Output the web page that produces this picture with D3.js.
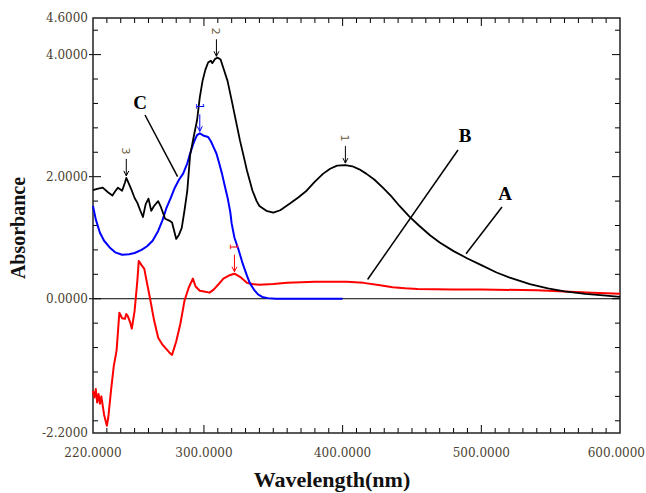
<!DOCTYPE html>
<html>
<head>
<meta charset="utf-8">
<script src="https://cdn.jsdelivr.net/npm/d3@7"></script>
<style>
  body { margin: 0; background: #fff; }
  svg { display: block; }
</style>
</head>
<body>
<div id="chart"></div>
<script>
var width = 646,
    height = 493;

var margin = {top: 18, right: 26, bottom: 60, left: 93};

// spectrum A (black)
var wlA = [220,223,227,231,234,236,238,241,243,244,245,248,250,252,254,256,258,260,262,264,267,269,272,275,277,280,282,284,286,288,290,293,295,297,299,301,303,305,306,308,310,312,314,317,320,322,326,329,331,335,338,340,345,350,355,362,368,374,380,386,391,396,402,407,412,417,423,429,435,441,448,455,463,470,480,490,500,511,520,535,548,560,575,590,600];
var absA = [1.78,1.80,1.82,1.74,1.69,1.76,1.82,1.77,1.90,1.98,1.93,1.77,1.65,1.57,1.45,1.34,1.55,1.64,1.44,1.52,1.60,1.50,1.31,1.28,1.25,0.98,1.05,1.16,1.45,1.77,2.35,2.70,2.92,3.30,3.57,3.75,3.87,3.90,3.86,3.93,3.95,3.92,3.78,3.57,3.25,3.03,2.59,2.30,2.10,1.77,1.60,1.52,1.44,1.41,1.45,1.56,1.66,1.77,1.92,2.05,2.13,2.18,2.19,2.17,2.12,2.05,1.95,1.82,1.68,1.52,1.35,1.20,1.04,0.92,0.78,0.66,0.55,0.43,0.35,0.24,0.17,0.12,0.08,0.05,0.03];

// spectrum B (red)
var wlB = [220,221,222,223,224,225,226,228,230,231,233,235,237,239,241,243,244,245,247,248,250,252,253,255,257,259,261,264,267,270,272,275,277,280,283,286,289,292,294,297,300,304,307,311,314,318,322,326,331,335,340,350,360,380,403,415,427,436,445,454,480,500,540,560,580,600];
var absB = [-1.51,-1.62,-1.48,-1.70,-1.56,-1.72,-1.60,-1.90,-2.08,-1.95,-1.50,-1.10,-0.85,-0.23,-0.32,-0.33,-0.25,-0.28,-0.40,-0.49,-0.20,0.30,0.62,0.55,0.49,0.25,0.02,-0.35,-0.64,-0.75,-0.80,-0.88,-0.92,-0.70,-0.41,-0.03,0.18,0.33,0.20,0.13,0.12,0.10,0.15,0.25,0.33,0.38,0.41,0.36,0.26,0.24,0.23,0.24,0.26,0.28,0.28,0.26,0.22,0.19,0.17,0.16,0.15,0.15,0.14,0.12,0.10,0.08];

// spectrum C (blue)
var wlC = [220,222,225,228,232,236,241,246,250,255,259,263,267,270,273,276,279,282,285,288,290,293,295,297,300,303,305,307,309,311,313,315,317,319,320,322,325,328,331,333,336,339,342,346,352,360,380,400];
var absC = [1.52,1.30,1.08,0.95,0.84,0.76,0.72,0.73,0.75,0.80,0.86,0.95,1.11,1.28,1.49,1.65,1.82,1.95,2.05,2.22,2.38,2.58,2.68,2.71,2.67,2.65,2.58,2.48,2.38,2.22,2.05,1.85,1.66,1.42,1.23,1.00,0.80,0.57,0.38,0.26,0.15,0.07,0.03,0.01,0.0,0.0,0.0,0.0];

// peak markers: wavelength, label, series
var peakWl = [244, 309, 402, 297, 322];
var peakLabel = ["3", "2", "1", "1", "1"];
var peakSeries = ["A", "A", "A", "C", "B"];

var xTickLabels = ["220.0000", "300.0000", "400.0000", "500.0000", "600.0000"];
var xTickValues = [220, 300, 400, 500, 600];
var yTickLabels = ["-2.2000", "0.0000", "2.0000", "4.0000", "4.6000"];
var yTickValues = [-2.2, 0, 2, 4, 4.6];

var colors = {A: "#000000", B: "#ff0000", C: "#0000ff"};
var tickColor = "#4a3f30";

var svg = d3.select("#chart")
  .append("svg")
    .attr("width", width)
    .attr("height", height);

svg.append("rect").attr("width", width).attr("height", height).attr("fill", "#fff");

var x = d3.scaleLinear().domain([220, 600]).range([margin.left, width - margin.right]);
var y = d3.scaleLinear().domain([-2.2, 4.6]).range([height - margin.bottom, margin.top]);

var x0 = x(220), x1 = x(600), y0 = y(-2.2), y1 = y(4.6);

// minor ticks
var minorX = d3.range(230, 600, 10);
var minorY = d3.range(-2.0, 4.5, 0.4).map(function(d){ return Math.round(d * 10) / 10 });

var ticks = svg.append("g").attr("stroke", "#000").attr("stroke-width", 1);

ticks.selectAll("bottomTick")
  .data(minorX)
  .enter()
  .append("line")
    .attr("x1", function(d){ return x(d) })
    .attr("x2", function(d){ return x(d) })
    .attr("y1", y0)
    .attr("y2", function(d){ return d % 100 == 0 ? y0 - 8 : y0 - 5 })

ticks.selectAll("topTick")
  .data(minorX)
  .enter()
  .append("line")
    .attr("x1", function(d){ return x(d) })
    .attr("x2", function(d){ return x(d) })
    .attr("y1", y1)
    .attr("y2", function(d){ return d % 100 == 0 ? y1 + 8 : y1 + 5 })

ticks.selectAll("leftTick")
  .data(minorY)
  .enter()
  .append("line")
    .attr("x1", function(d){ return (d == 0 || d == 2 || d == 4) ? x0 - 4 : x0 })
    .attr("x2", function(d){ return (d == 0 || d == 2 || d == 4) ? x0 + 8 : x0 + 5 })
    .attr("y1", function(d){ return y(d) })
    .attr("y2", function(d){ return y(d) })

ticks.selectAll("rightTick")
  .data(minorY)
  .enter()
  .append("line")
    .attr("x1", x1)
    .attr("x2", function(d){ return (d == 0 || d == 2 || d == 4) ? x1 - 8 : x1 - 5 })
    .attr("y1", function(d){ return y(d) })
    .attr("y2", function(d){ return y(d) })

// tick labels
svg.selectAll("xlabels")
  .data(xTickValues)
  .enter()
  .append("text")
    .attr("x", function(d, i){ return i == xTickValues.length - 1 ? width - 1 : x(d) })
    .attr("y", y0 + 24)
    .attr("text-anchor", function(d, i){ return i == xTickValues.length - 1 ? "end" : "middle" })
    .style("font-family", "DejaVu Serif")
    .style("font-size", "12px")
    .style("fill", tickColor)
    .text(function(d, i){ return xTickLabels[i] })

svg.selectAll("ylabels")
  .data(yTickValues)
  .enter()
  .append("text")
    .attr("x", x0 - 5)
    .attr("y", function(d){ return y(d) + 4 })
    .attr("text-anchor", "end")
    .style("font-family", "DejaVu Serif")
    .style("font-size", "12px")
    .style("fill", tickColor)
    .text(function(d, i){ return yTickLabels[i] })

// zero line
svg.append("line")
  .attr("x1", x0).attr("x2", x1)
  .attr("y1", y(0)).attr("y2", y(0))
  .attr("stroke", "#000").attr("stroke-width", 1)

// frame
svg.append("rect")
  .attr("x", x0).attr("y", y1)
  .attr("width", x1 - x0).attr("height", y0 - y1)
  .attr("fill", "none")
  .attr("stroke", "#222")
  .attr("stroke-width", 1.5)

var line = d3.line()
  .x(function(d){ return x(d[0]) })
  .y(function(d){ return y(d[1]) })

var series = {
  A: d3.zip(wlA, absA),
  B: d3.zip(wlB, absB),
  C: d3.zip(wlC, absC)
};

["B", "C", "A"].forEach(function(k){
  svg.append("path")
    .datum(series[k])
    .attr("d", line)
    .attr("fill", "none")
    .attr("stroke", colors[k])
    .attr("stroke-width", k == "A" ? 1.8 : 2)
    .attr("stroke-linejoin", "round")
})

// value of a series at a wavelength
function valueAt(k, wl) {
  var wls = k == "A" ? wlA : (k == "B" ? wlB : wlC);
  var vals = k == "A" ? absA : (k == "B" ? absB : absC);
  var i = d3.bisectLeft(wls, wl);
  if (i <= 0) return vals[0];
  if (i >= wls.length) return vals[vals.length - 1];
  var t = (wl - wls[i - 1]) / (wls[i] - wls[i - 1]);
  return vals[i - 1] + t * (vals[i] - vals[i - 1]);
}

// peak arrows and rotated labels
peakWl.forEach(function(wl, i){
  var k = peakSeries[i];
  var px = x(wl), py = y(valueAt(k, wl)) - 2;
  var c = k == "A" ? "#000" : colors[k];
  var g = svg.append("g");
  g.append("line")
    .attr("x1", px).attr("x2", px)
    .attr("y1", py - 17).attr("y2", py)
    .attr("stroke", c).attr("stroke-width", 1);
  g.append("path")
    .attr("d", "M" + (px - 2.5) + "," + (py - 5) + "L" + px + "," + py + "L" + (px + 2.5) + "," + (py - 5))
    .attr("fill", "none")
    .attr("stroke", c).attr("stroke-width", 1);
  g.append("text")
    .attr("transform", "translate(" + (px - 4) + "," + (py - 25) + ") rotate(90)")
    .attr("text-anchor", "middle")
    .style("font-family", "DejaVu Sans")
    .style("font-size", "11px")
    .style("fill", k == "A" ? "#6b5a3e" : colors[k])
    .text(peakLabel[i])
})

// curve name pointers
var pointerNames = ["C", "B", "A"];
var pointerWl = [281, 418, 489];
var pointerSeries = ["A", "B", "A"];
var pointerEnd = [[145, 115], [458, 150], [502, 207]];
var nameAt = [[140, 109], [465, 142], [505, 200]];

pointerNames.forEach(function(n, i){
  var k = pointerSeries[i];
  var wl = pointerWl[i];
  svg.append("line")
    .attr("x1", pointerEnd[i][0]).attr("y1", pointerEnd[i][1])
    .attr("x2", x(wl)).attr("y2", i == 0 ? y(2.0) : y(valueAt(k, wl)) - 4)
    .attr("stroke", "#000").attr("stroke-width", 1.5)
  svg.append("text")
    .attr("x", nameAt[i][0]).attr("y", nameAt[i][1])
    .attr("text-anchor", "middle")
    .style("font-family", "Liberation Serif")
    .style("font-weight", "bold")
    .style("font-size", "19px")
    .text(n)
})

// axis titles
svg.append("text")
  .attr("x", 332)
  .attr("y", 487)
  .attr("text-anchor", "middle")
  .style("font-family", "Liberation Serif")
  .style("font-weight", "bold")
  .style("font-size", "22px")
  .style("fill", "#111")
  .text("Wavelength(nm)")

svg.append("text")
  .attr("transform", "translate(25,228) rotate(-90)")
  .attr("text-anchor", "middle")
  .style("font-family", "Liberation Serif")
  .style("font-weight", "bold")
  .style("font-size", "20px")
  .style("fill", "#111")
  .text("Absorbance")
</script>
</body>
</html>
